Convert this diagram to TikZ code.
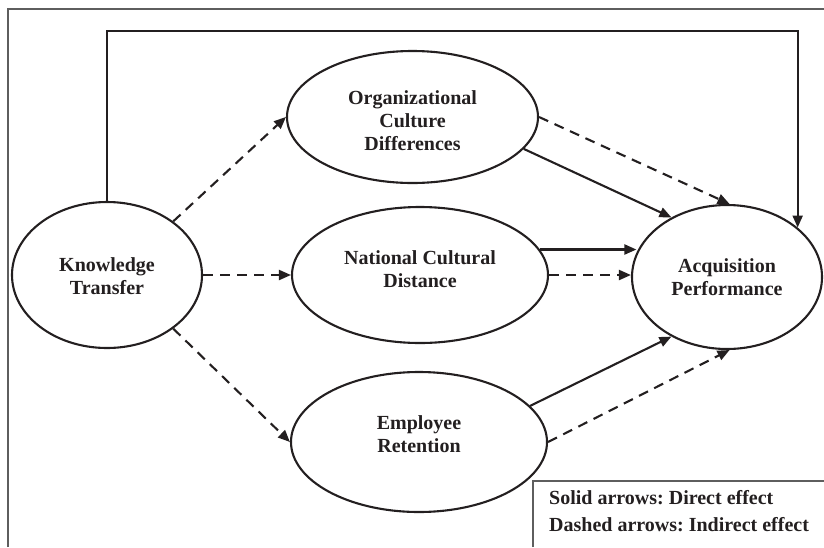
\documentclass[tikz,border=0pt]{standalone}
\usepackage{fontspec}
\setmainfont{Liberation Serif}
\frenchspacing
\usetikzlibrary{shapes.geometric,arrows.meta}
\definecolor{ink}{HTML}{231F20}
\definecolor{framegray}{HTML}{5E5E5E}
\tikzset{
  oval/.style={ellipse, draw=ink, line width=2.1pt, inner sep=0pt},
  lbl/.style={align=center, text=ink, font=\fontsize{20}{23}\selectfont\bfseries},
  legendtext/.style={text=ink, font=\fontsize{20}{23}\selectfont\bfseries, anchor=base west, inner sep=0pt},
  direct/.style={draw=ink, line width=2.1pt, -{Triangle[length=12pt,width=10pt]}},
  indirect/.style={draw=ink, line width=2.1pt, dash pattern=on 10pt off 7pt, -{Triangle[length=12pt,width=10pt]}},
  framestyle/.style={draw=framegray, line width=1.6pt}
}
\begin{document}
\begin{tikzpicture}[x=1pt,y=-1pt]
\useasboundingbox (0,0) rectangle (824,547);
% outer frame and legend box
\coordinate (frameBL) at (8,547);
\coordinate (frameTL) at (8,9);
\coordinate (frameTR) at (824,9);
\draw[framestyle] (frameBL) -- (frameTL) -- (frameTR);
\coordinate (legBL) at (533,547);
\coordinate (legTL) at (533,481);
\coordinate (legTR) at (824,481);
\draw[framestyle] (legBL) -- (legTL) -- (legTR);
\node[legendtext] (leg1) at (549,504) {Solid arrows: Direct effect};
\node[legendtext] (leg2) at (549,531) {Dashed arrows: Indirect effect};

% ellipses
\node[oval, minimum width=190pt, minimum height=146pt] (KT) at (107,275) {};
\node[oval, minimum width=251pt, minimum height=132pt] (OCD) at (412.5,117) {};
\node[oval, minimum width=256pt, minimum height=136pt] (NCD) at (420,275) {};
\node[oval, minimum width=256pt, minimum height=140pt] (ER) at (419,442) {};
\node[oval, minimum width=190pt, minimum height=144pt] (AP) at (727,277) {};

% texts
\node[lbl] (KTtext) at (107,276) {Knowledge\\Transfer};
\node[lbl] (OCDtext) at (412.5,121) {Organizational\\Culture\\Differences};
\node[lbl] (NCDtext) at (420,269) {National Cultural\\Distance};
\node[lbl] (ERtext) at (419,434) {Employee\\Retention};
\node[lbl] (APtext) at (727,277) {Acquisition\\Performance};

% connectors
\coordinate (topline) at (0,31);
\draw[indirect] (KT.39) -- (OCD.west);
\draw[indirect] (KT.east) -- (NCD.west);
\draw[indirect] (KT.-39) -- (ER.west);
\draw[direct] (KT.north) |- (AP.35 |- topline) -- (AP.35);
\draw[indirect] (OCD.east) -- (AP.88);
\draw[direct] (OCD.-16) -- (AP.133);
\draw[direct] (NCD.12) -- (AP.165 |- NCD.12);
\draw[indirect] (NCD.east) -- (AP.west |- NCD.east);
\draw[direct] (ER.18) -- (AP.227);
\draw[indirect] (ER.east) -- (AP.-88);
\end{tikzpicture}
\end{document}
